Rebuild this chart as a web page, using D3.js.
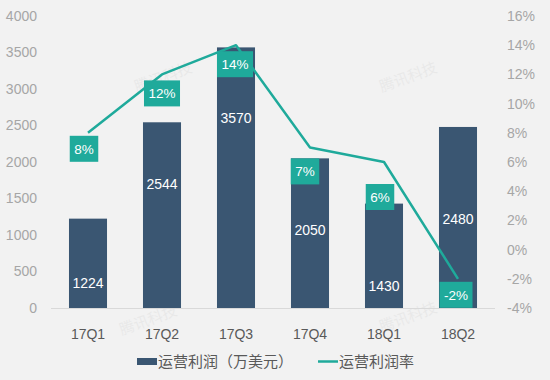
<!DOCTYPE html>
<html><head><meta charset="utf-8">
<script src="https://cdn.jsdelivr.net/npm/d3@7"></script>
<style>
html,body{margin:0;padding:0;background:#f2f2f2;}
svg{display:block;font-family:"Liberation Sans",Arial,sans-serif;}
</style></head>
<body>
<script>
const categories = ["17Q1","17Q2","17Q3","17Q4","18Q1","18Q2"];
const profit = [1224, 2544, 3570, 2050, 1430, 2480];
const margin = [8, 12, 14, 7, 6, -2];
const leftTicks = [0,500,1000,1500,2000,2500,3000,3500,4000];
const rightTicks = [-4,-2,0,2,4,6,8,10,12,14,16];
const seriesNames = ["运营利润（万美元）", "运营利润率"];
// layout helpers (label placement, in axis units / pixels)
const valueLabelAt = [340, 1700, 2600, 1070, 300, 1220];
const pctBoxDy = [3, 6, 6, 11, 22, 3];
const pctBoxDx = [-4, 0, -1, -5, -4, -2];

const W = 550, H = 380;
const barColor = "#3a5672", teal = "#1faa9b";
const svg = d3.select("body").append("svg").attr("width", W).attr("height", H);
svg.append("rect").attr("width", W).attr("height", H).attr("fill", "#f2f2f2");

const x = d3.scaleBand().domain(categories).range([51, 495]).paddingInner(0.486).paddingOuter(0.243);
const yL = d3.scaleLinear().domain([0, 4000]).range([308, 16]);
const yR = d3.scaleLinear().domain([-4, 16]).range([308, 16]);

// watermarks
const wm = [[165,82],[410,82],[150,325],[410,322]];
svg.append("g").selectAll("text").data(wm).join("text")
  .attr("transform", d => `translate(${d[0]},${d[1]}) rotate(-20)`)
  .attr("text-anchor","middle").attr("font-size",15)
  .attr("font-family","Noto Sans CJK SC").attr("fill","#000").attr("opacity",0.035)
  .text("腾讯科技");

// left axis
const gL = svg.append("g").attr("transform","translate(51,0)")
  .call(d3.axisLeft(yL).tickValues(leftTicks).tickSize(0).tickPadding(14).tickFormat(d3.format("d")));
gL.select(".domain").remove();
gL.selectAll("text").attr("font-size",14).attr("fill","#a6a6a6").attr("font-family","Liberation Sans,Arial,sans-serif");

// right axis
const gR = svg.append("g").attr("transform","translate(495,0)")
  .call(d3.axisRight(yR).tickValues(rightTicks).tickSize(0).tickPadding(12).tickFormat(d => d + "%"));
gR.select(".domain").remove();
gR.selectAll("text").attr("font-size",14).attr("fill","#a6a6a6").attr("font-family","Liberation Sans,Arial,sans-serif");

// bars
svg.append("g").selectAll("rect").data(categories).join("rect")
  .attr("x", d => x(d)).attr("width", x.bandwidth())
  .attr("y", (d,i) => yL(profit[i])).attr("height", (d,i) => yL(0) - yL(profit[i]))
  .attr("fill", barColor);

// baseline
svg.append("line").attr("x1",51).attr("x2",495).attr("y1",yL(0)+0.5).attr("y2",yL(0)+0.5)
  .attr("stroke","#d9d9d9").attr("stroke-width",1);

// x axis labels
const gX = svg.append("g").attr("transform","translate(0,308)")
  .call(d3.axisBottom(x).tickSize(0).tickPadding(21));
gX.select(".domain").remove();
gX.selectAll("text").attr("font-size",14).attr("fill","#595959").attr("font-family","Liberation Sans,Arial,sans-serif");

// bar value labels
svg.append("g").selectAll("text").data(categories).join("text")
  .attr("x", d => x(d) + x.bandwidth()/2)
  .attr("y", (d,i) => yL(valueLabelAt[i]))
  .attr("dy","0.35em").attr("text-anchor","middle")
  .attr("font-size",14).attr("fill","#ffffff")
  .text((d,i) => profit[i]);

// line
const cx = d => x(d) + x.bandwidth()/2;
svg.append("path").datum(categories)
  .attr("d", d3.line().x(d => cx(d)).y((d,i) => yR(margin[i])))
  .attr("fill","none").attr("stroke",teal).attr("stroke-width",2.5).attr("stroke-linejoin","round");

// percentage boxes
const pg = svg.append("g").selectAll("g").data(categories).join("g")
  .attr("transform",(d,i) => `translate(${cx(d)+pctBoxDx[i]},${yR(margin[i]) + pctBoxDy[i]})`);
pg.each(function(d,i){
  const g = d3.select(this);
  const t = g.append("text").attr("text-anchor","middle").attr("y",13).attr("dy","0.35em")
    .attr("font-size",13.5).attr("fill","#fff").text(margin[i] + "%");
  const w = t.node().getComputedTextLength() + 9;
  g.insert("rect","text").attr("x",-w/2).attr("y",0).attr("width",w).attr("height",26).attr("fill",teal);
});

// legend
const lg = svg.append("g").attr("font-family","Noto Sans CJK SC").attr("font-size",15).attr("fill","#595959");
lg.append("rect").attr("x",137).attr("y",358).attr("width",20).attr("height",7).attr("fill",barColor);
lg.append("text").attr("x",158).attr("y",362).attr("dy","0.35em").text(seriesNames[0]);
lg.append("line").attr("x1",318).attr("x2",338).attr("y1",361.5).attr("y2",361.5).attr("stroke",teal).attr("stroke-width",2.5);
lg.append("text").attr("x",339).attr("y",362).attr("dy","0.35em").text(seriesNames[1]);
</script>
</body></html>
